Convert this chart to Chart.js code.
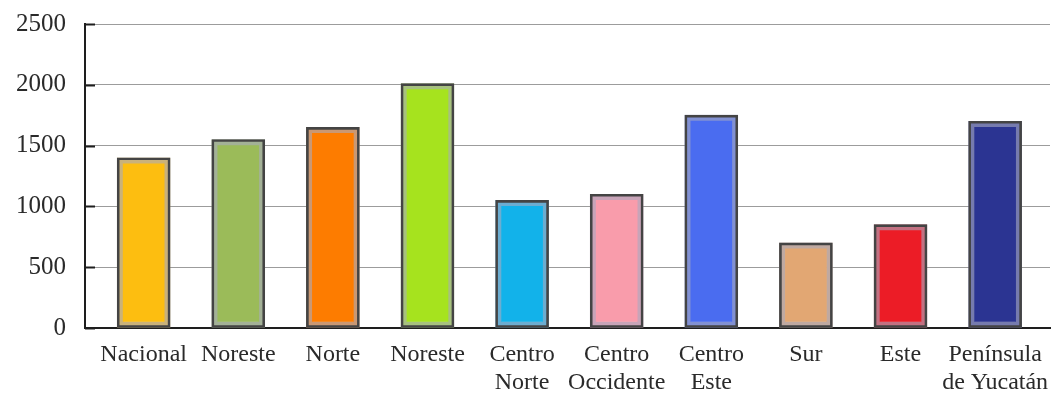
<!DOCTYPE html>
<html>
<head>
<meta charset="utf-8">
<script src="https://cdn.jsdelivr.net/npm/chart.js@4/dist/chart.umd.min.js"></script>
<style>
html,body{margin:0;padding:0;background:#fff;}
#wrap{width:1052px;height:398px;position:relative;}
</style>
</head>
<body>
<div id="wrap"><canvas id="c" width="1052" height="398"></canvas></div>
<script>
const categories = [
  ["Nacional"], ["Noreste"], ["Norte"], ["Noreste"], ["Centro", "Norte"],
  ["Centro", "Occidente"], ["Centro", "Este"], ["Sur"], ["Este"], ["Península", "de Yucatán"]
];
const values = [1400, 1550, 1650, 2010, 1050, 1100, 1750, 700, 850, 1700];
const barColors = ["#fdbe10", "#9bbb59", "#fd7c00", "#a6e31e", "#12b2ea",
                   "#f99cab", "#4a6cf0", "#e2a773", "#ec1c26", "#2b3492"];
const yTicks = [0, 500, 1000, 1500, 2000, 2500];

function tint(hex) {
  const n = parseInt(hex.slice(1), 16);
  const r = (n >> 16) & 255, g = (n >> 8) & 255, b = n & 255;
  const m = (c, t, k) => Math.round(c * (1 - k) + t * k);
  return `rgb(${m(r,168,0.6)},${m(g,170,0.6)},${m(b,192,0.6)})`;
}

const points = values.map((v, i) => ({ x: i, y: v }));

const innerTicks = {
  id: 'innerTicks',
  afterDatasetsDraw(chart) {
    const ys = chart.scales.y, ctx = chart.ctx;
    const left = chart.chartArea.left;
    ctx.save();
    ctx.strokeStyle = '#1e1e1e';
    ctx.lineWidth = 2;
    yTicks.forEach(t => {
      const py = Math.round(ys.getPixelForValue(t)) + 0.5;
      ctx.beginPath();
      ctx.moveTo(left, py);
      ctx.lineTo(left + 10, py);
      ctx.stroke();
    });
    ctx.restore();
  }
};

new Chart(document.getElementById('c'), {
  type: 'bar',
  data: {
    datasets: [
      {
        data: points,
        backgroundColor: 'rgba(0,0,0,0)',
        borderColor: '#444444',
        borderWidth: 2,
        borderSkipped: false,
        barThickness: 53,
        grouped: false
      },
      {
        data: points,
        backgroundColor: barColors,
        borderColor: barColors.map(tint),
        borderWidth: 6,
        borderSkipped: false,
        barThickness: 53,
        grouped: false
      }
    ]
  },
  options: {
    responsive: false,
    animation: false,
    events: [],
    layout: { padding: { top: 24, right: 2, left: 0, bottom: 0 } },
    plugins: { legend: { display: false }, tooltip: { enabled: false } },
    scales: {
      x: {
        type: 'linear',
        offset: false,
        min: -0.62,
        max: 9.58,
        afterBuildTicks(scale) { scale.ticks = categories.map((c, i) => ({ value: i })); },
        afterFit(scale) { scale.height = 70; },
        grid: { display: true, drawOnChartArea: false, drawTicks: true, tickLength: 12,
                color: 'rgba(0,0,0,0)', tickColor: 'rgba(0,0,0,0)', offset: false },
        border: { display: true, color: '#1e1e1e', width: 2 },
        ticks: {
          autoSkip: false,
          maxRotation: 0,
          padding: 0,
          color: '#2a2a2a',
          font: { family: 'Liberation Serif', size: 24 },
          callback: (v) => categories[v]
        }
      },
      y: {
        min: 0,
        max: 2500,
        afterBuildTicks(scale) { scale.ticks = yTicks.map(v => ({ value: v })); },
        afterFit(scale) { scale.width = 85; },
        grid: { color: '#9c9c9c', lineWidth: 1, drawTicks: true, tickLength: 19,
                tickColor: 'rgba(0,0,0,0)' },
        border: { display: true, color: '#1e1e1e', width: 2 },
        ticks: {
          padding: 0,
          color: '#2a2a2a',
          font: { family: 'Liberation Serif', size: 25 },
          callback: (v) => String(v)
        }
      }
    }
  },
  plugins: [innerTicks]
});
</script>
</body>
</html>
